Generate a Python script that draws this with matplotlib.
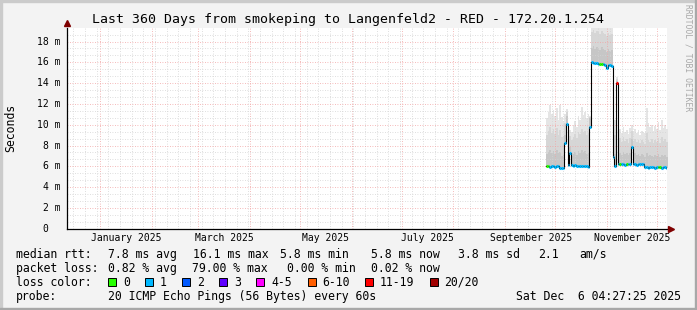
import pandas as pd
import matplotlib
matplotlib.use('Agg')
import matplotlib.pyplot as plt
import matplotlib.dates as mdates
from matplotlib.ticker import MultipleLocator
from matplotlib.patches import Rectangle
from matplotlib.transforms import blended_transform_factory

plt.rcParams['font.family'] = 'DejaVu Sans Mono'

W, H = 697, 310
T_START = pd.Timestamp('2024-12-12 04:27:25')
T_END = pd.Timestamp('2025-12-07 04:27:25')

# one sample per day, starting 2025-09-25 (values in ms)
DAY0 = '2025-09-25 12:00'
median = [6.0, 6.0, 5.95, 6.0, 6.0, 5.95, 6.0, 6.0, 5.8, 5.8, 5.85,
          8.2, 10.1,
          6.1, 7.3, 6.1,
          6.05, 6.1, 6.05, 6.0, 6.05, 6.05, 6.0, 6.05, 6.0, 5.95,
          9.8,
          16.05, 15.95, 15.9, 15.9, 15.85, 15.85, 15.8, 15.8, 15.75, 15.5, 15.7, 15.7, 15.6,
          6.9, 6.0, 14.0,
          6.2, 6.25, 6.2, 6.2, 6.15, 6.2, 6.2, 6.25,
          7.9,
          6.2, 6.2, 6.15, 6.2, 6.2, 6.25, 6.2,
          5.9, 5.9, 5.85, 5.9, 5.9, 5.9, 5.85, 5.9, 5.9, 5.9, 5.85, 5.9, 5.9, 5.85]
smoke_p60 = [7.2, 7.4, 7.6, 7.3, 7.5, 7.2, 7.6, 7.3, 7.4, 7.0, 7.1,
             9.0, 10.8,
             7.0, 7.9, 7.0,
             7.2, 7.4, 7.1, 7.5, 7.3, 7.6, 7.4, 7.5, 7.2, 7.3, 10.6,
             17.4, 17.6, 17.3, 17.5, 17.4, 17.2, 17.5, 17.3, 17.2, 17.0, 17.3, 17.1, 17.2,
             7.8, 7.2, 14.2,
             7.2, 7.3, 7.1, 7.4, 7.2, 7.3, 7.1, 7.3,
             8.6,
             7.2, 7.3, 7.1, 7.2, 7.0, 7.2, 7.1,
             6.9, 7.3, 7.0, 7.1, 7.0, 6.9, 7.1, 7.0, 7.2, 6.9, 7.1, 7.0, 7.1, 6.9]
smoke_p90 = [9.0, 9.4, 9.8, 9.2, 9.6, 9.1, 9.7, 9.0, 9.5, 8.8, 8.9,
             10.2, 11.2,
             8.4, 8.9, 8.5,
             8.8, 9.1, 8.7, 9.3, 9.1, 9.6, 9.3, 9.4, 9.0, 9.2, 10.7,
             18.9, 19.1, 18.8, 19.0, 18.9, 18.7, 19.0, 18.8, 18.7, 18.5, 18.8, 18.6, 18.7,
             9.5, 9.0, 14.4,
             8.5, 8.7, 8.3, 8.8, 8.4, 8.6, 8.2, 8.7,
             9.4,
             8.4, 8.6, 8.3, 8.5, 8.2, 8.5, 8.3,
             8.1, 9.2, 8.5, 8.3, 8.6, 8.2, 8.5, 8.3, 8.7, 8.2, 8.8, 8.4, 8.6, 8.3]
smoke_max = [10.6, 11.2, 11.9, 11.0, 11.4, 10.8, 11.6, 10.5, 11.9, 10.7, 10.4,
             11.0, 11.5,
             9.2, 9.5, 9.3,
             10.0, 10.4, 9.8, 10.8, 10.5, 11.7, 10.9, 11.2, 10.6, 11.0, 10.8,
             19.5, 19.5, 19.5, 19.5, 19.5, 19.5, 19.5, 19.5, 19.5, 19.5, 19.5, 19.5, 19.5,
             11.0, 10.5, 14.6,
             9.4, 9.6, 9.2, 9.8, 9.3, 9.5, 9.1, 9.7,
             10.0,
             9.3, 9.6, 9.2, 9.5, 9.0, 9.4, 9.3,
             9.2, 11.6, 10.2, 9.8, 10.0, 9.4, 9.9, 9.6, 10.3, 9.5, 10.5, 9.7, 10.0, 9.6]
# loss class per day (index into loss_labels)
loss = [0, 0, 1, 1, 1, 1, 1, 1, 1, 1,
        1, 1, 1, 1, 1, 1, 1, 1, 1, 1,
        1, 1, 1, 1, 1, 1, 1, 1, 1, 1,
        1, 1, 0, 0, 1, 1, 1, 1, 1, 1,
        1, 1, 6, 1, 0, 1, 1, 1, 0, 1,
        1, 1, 1, 1, 1, 1, 1, 1, 1, 1,
        1, 1, 1, 1, 1, 1, 1, 0, 0, 1,
        1, 1, 1]

loss_labels = ['0', '1', '2', '3', '4-5', '6-10', '11-19', '20/20']
loss_colors = ['#26ff00', '#00b8ff', '#0059ff', '#5e00ff', '#ff00ff', '#ff5e00', '#ff0000', '#a10000']
loss_box_x = [108, 145, 182, 219, 256, 307.5, 365, 430]
loss_text_x = [123, 160, 197, 234, 271, 322, 380, 444]

month_labels = ['January 2025', 'March 2025', 'May 2025', 'July 2025', 'September 2025', 'November 2025']
month_label_dates = ['2025-01-16 12:00', '2025-03-16 12:00', '2025-05-16 12:00',
                     '2025-07-16 12:00', '2025-09-16 12:00', '2025-11-16 12:00']

title = 'Last 360 Days from smokeping to Langenfeld2 - RED - 172.20.1.254'
rows = [
    [('median rtt:', 16), ('7.8 ms avg', 107.6), ('16.1 ms max', 193.3), ('5.8 ms min', 280),
     ('5.8 ms now', 371.1), ('3.8 ms sd', 457.8), ('2.1', 537.8), ('am/s', 579.1)],
    [('packet loss:', 16), ('0.82 % avg', 107.6), ('79.00 % max', 192.4), ('0.00 % min', 286.7),
     ('0.02 % now', 371.1)],
    [('loss color:', 16)],
    [('probe:', 16), ('20 ICMP Echo Pings (56 Bytes) every 60s', 107.6)],
]
row_y = [254.3, 268.3, 282.3, 296.3]
stamp = 'Sat Dec  6 04:27:25 2025'


def fx(x):
    return x / W


def fy(y):
    return 1 - y / H


fig = plt.figure(figsize=(W / 100, H / 100), dpi=100, facecolor='#F3F3F3')

# frame shading
fig.patches.append(Rectangle((0, fy(2)), 1, 2 / H, transform=fig.transFigure, color='#CBCBCB', zorder=0))
fig.patches.append(Rectangle((0, 0), 2 / W, 1, transform=fig.transFigure, color='#CBCBCB', zorder=0))
fig.patches.append(Rectangle((0, 0), 1, 2 / H, transform=fig.transFigure, color='#A8A8A8', zorder=0))
fig.patches.append(Rectangle((fx(W - 2), 0), 2 / W, 1, transform=fig.transFigure, color='#A8A8A8', zorder=0))

ax = fig.add_axes([fx(67), fy(228.7), 600 / W, 201 / H])
ax.set_facecolor('white')

t = mdates.date2num(pd.date_range(DAY0, periods=len(median) + 1, freq='D').to_pydatetime())
ext = lambda v: list(v) + [v[-1]]

ax.fill_between(t, ext(median), ext(smoke_p60), step='post', color='#c6c6c6', lw=0, zorder=1)
ax.fill_between(t, ext(smoke_p60), ext(smoke_p90), step='post', color='#d6d6d6', lw=0, zorder=1)
ax.fill_between(t, ext(smoke_p90), ext(smoke_max), step='post', color='#e5e5e5', lw=0, zorder=1)
ax.step(t, ext(median), where='post', color='black', lw=0.8, zorder=3)
ax.hlines(median, t[:-1], t[1:], colors=[loss_colors[c] for c in loss], lw=2.2, zorder=4)

ax.set_xlim(mdates.date2num(T_START.to_pydatetime()), mdates.date2num(T_END.to_pydatetime()))
ax.set_ylim(0, 19.33)

ax.xaxis.set_major_locator(mdates.MonthLocator())
ax.xaxis.set_minor_locator(mdates.WeekdayLocator(byweekday=mdates.MO))
ax.yaxis.set_major_locator(MultipleLocator(2))
ax.yaxis.set_minor_locator(MultipleLocator(2 / 3))
ax.set_axisbelow(False)
ax.grid(which='minor', color='#d4d4d4', ls=(0, (1, 2)), lw=0.6)
ax.grid(which='major', color='#f2a3a3', ls=(0, (1, 2)), lw=0.6)
ax.tick_params(which='both', length=0, labelbottom=False, labelleft=False)

for s in ['top', 'right']:
    ax.spines[s].set_visible(False)
for s in ['left', 'bottom']:
    ax.spines[s].set_color('black')
    ax.spines[s].set_linewidth(0.9)
    ax.spines[s].set_zorder(5)

ax.plot([1.007], [0], marker='>', ms=4.5, color='#7f0000', transform=ax.transAxes, clip_on=False, zorder=6)
ax.plot([0], [1.025], marker='^', ms=4.5, color='#7f0000', transform=ax.transAxes, clip_on=False, zorder=6)

# y labels
ytr = blended_transform_factory(fig.transFigure, ax.transData)
for v in range(0, 19, 2):
    if v == 0:
        fig.text(fx(48.5), v, '0', transform=ytr, ha='right', va='center', fontsize=7)
    else:
        fig.text(fx(60.5), v, f'{v} m', transform=ytr, ha='right', va='center', fontsize=7)

# x labels
xtr = blended_transform_factory(ax.transData, fig.transFigure)
for lab, d in zip(month_labels, month_label_dates):
    ax.text(mdates.date2num(pd.Timestamp(d).to_pydatetime()), fy(237.7), lab, transform=xtr,
            ha='center', va='center', fontsize=7.05)

fig.text(fx(11), fy(127.5), 'Seconds', rotation=90, ha='center', va='center', fontsize=8.3)
fig.text(fx(348), fy(19.3), title, ha='center', va='center', fontsize=9.55)
fig.text(fx(688), fy(58), 'RRDTOOL / TOBI OETIKER', rotation=-90, ha='center', va='center',
         fontsize=5.8, color='#a8a8a8')

for row, y in zip(rows, row_y):
    for txt, x in row:
        fig.text(fx(x), fy(y), txt, ha='left', va='center', fontsize=8.3)
fig.text(fx(681), fy(row_y[3]), stamp, ha='right', va='center', fontsize=8.3)

for lab, col, bx, tx in zip(loss_labels, loss_colors, loss_box_x, loss_text_x):
    fig.patches.append(Rectangle((fx(bx), fy(row_y[2] + 4)), 8 / W, 8 / H, transform=fig.transFigure,
                                 facecolor=col, edgecolor='black', lw=0.7))
    fig.text(fx(tx), fy(row_y[2]), lab, ha='left', va='center', fontsize=8.3)

fig.savefig('out.png', dpi=100, facecolor=fig.get_facecolor())
